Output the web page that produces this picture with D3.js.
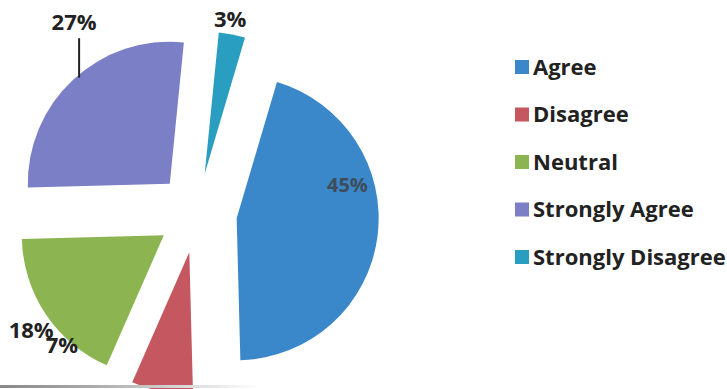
<!DOCTYPE html>
<html>
<head>
<meta charset="utf-8">
<script src="https://cdn.jsdelivr.net/npm/d3@7"></script>
<style>
  body { margin: 0; background: #fff; }
  svg { display: block; font-family: "Open Sans", Lato, sans-serif; }
</style>
</head>
<body>
<div id="chart"></div>
<script>
// data
var categories = ["Agree", "Disagree", "Neutral", "Strongly Agree", "Strongly Disagree"];
var values = [45, 7, 18, 27, 3];
var labels = ["45%", "7%", "18%", "27%", "3%"];
var colors = ["#3a87c9", "#c4575f", "#8cb450", "#7a7fc6", "#2a9ec0"];

var width = 727, height = 389;
var cx = 197, cy = 213, radius = 142, explode = 40;
var deg = Math.PI / 180;

// where each data label sits (angle in degrees, distance from pie centre)
var labelAngle = [79.5, 225.6, 234.8, 327.2, 9.7];
var labelRadius = [153, 189, 203, 227, 197];

var svg = d3.select("#chart")
  .append("svg")
    .attr("width", width)
    .attr("height", height);

var pie = d3.pie()
  .sort(null)
  .startAngle(16.5 * deg)
  .endAngle(376.5 * deg)
  .value(function(d) { return d; });

var arcs = pie(values);

var arc = d3.arc()
  .innerRadius(0)
  .outerRadius(radius);

var g = svg.append("g")
  .attr("transform", "translate(" + cx + "," + cy + ")");

function offset(d) {
  var mid = (d.startAngle + d.endAngle) / 2;
  return [Math.sin(mid) * explode, -Math.cos(mid) * explode];
}

// slices, pulled out along their bisector
g.selectAll("path.slice")
  .data(arcs)
  .enter().append("path")
    .attr("class", "slice")
    .attr("fill", function(d, i) { return colors[i]; })
    .attr("transform", function(d) {
      var o = offset(d);
      return "translate(" + o[0] + "," + o[1] + ")";
    })
    .attr("d", arc);

// data labels
var labelArc = function(i) {
  var a = labelAngle[i] * deg;
  return d3.arc()
    .innerRadius(labelRadius[i])
    .outerRadius(labelRadius[i])
    .startAngle(a)
    .endAngle(a)
    .centroid();
};

// leader line for the 27% label
var sa = arcs[3];
var saMid = (sa.startAngle + sa.endAngle) / 2;
var so = offset(sa);
var edge = [so[0] + Math.sin(saMid) * radius, so[1] - Math.cos(saMid) * radius];
var saLabel = labelArc(3);
g.append("line")
  .attr("x1", edge[0] + 6)
  .attr("x2", edge[0] + 6)
  .attr("y1", edge[1] - 2)
  .attr("y2", saLabel[1] + 16)
  .attr("stroke", "#222")
  .attr("stroke-width", 2);

g.selectAll("text.lbl")
  .data(labels)
  .enter().append("text")
    .attr("class", "lbl")
    .attr("x", function(d, i) { return labelArc(i)[0]; })
    .attr("y", function(d, i) { return labelArc(i)[1]; })
    .attr("dy", "0.36em")
    .attr("text-anchor", "middle")
    .attr("font-size", function(d, i) { return i === 0 ? 20 : 22; })
    .attr("font-weight", "bold")
    .attr("fill", function(d, i) { return i === 0 ? "#3e4d5c" : "#222"; })
    .text(function(d) { return d; });

// legend
var legend = svg.append("g")
  .attr("transform", "translate(515,67)");

var item = legend.selectAll("g")
  .data(categories)
  .enter().append("g")
    .attr("transform", function(d, i) { return "translate(0," + (i * 47.5) + ")"; });

item.append("rect")
  .attr("x", 0)
  .attr("y", -7)
  .attr("width", 14)
  .attr("height", 14)
  .attr("fill", function(d, i) { return colors[i]; });

item.append("text")
  .attr("x", 18)
  .attr("dy", "0.36em")
  .attr("font-size", 22)
  .attr("font-weight", "bold")
  .attr("fill", "#222")
  .text(function(d) { return d; });

// faint scan edge at the bottom left
var grad = svg.append("defs").append("linearGradient")
  .attr("id", "edge");
grad.append("stop").attr("offset", "0%").attr("stop-color", "#888");
grad.append("stop").attr("offset", "35%").attr("stop-color", "#aaa");
grad.append("stop").attr("offset", "100%").attr("stop-color", "#fff");
svg.append("rect")
  .attr("x", 0)
  .attr("y", 385)
  .attr("width", 260)
  .attr("height", 3)
  .attr("fill", "url(#edge)");
</script>
</body>
</html>
